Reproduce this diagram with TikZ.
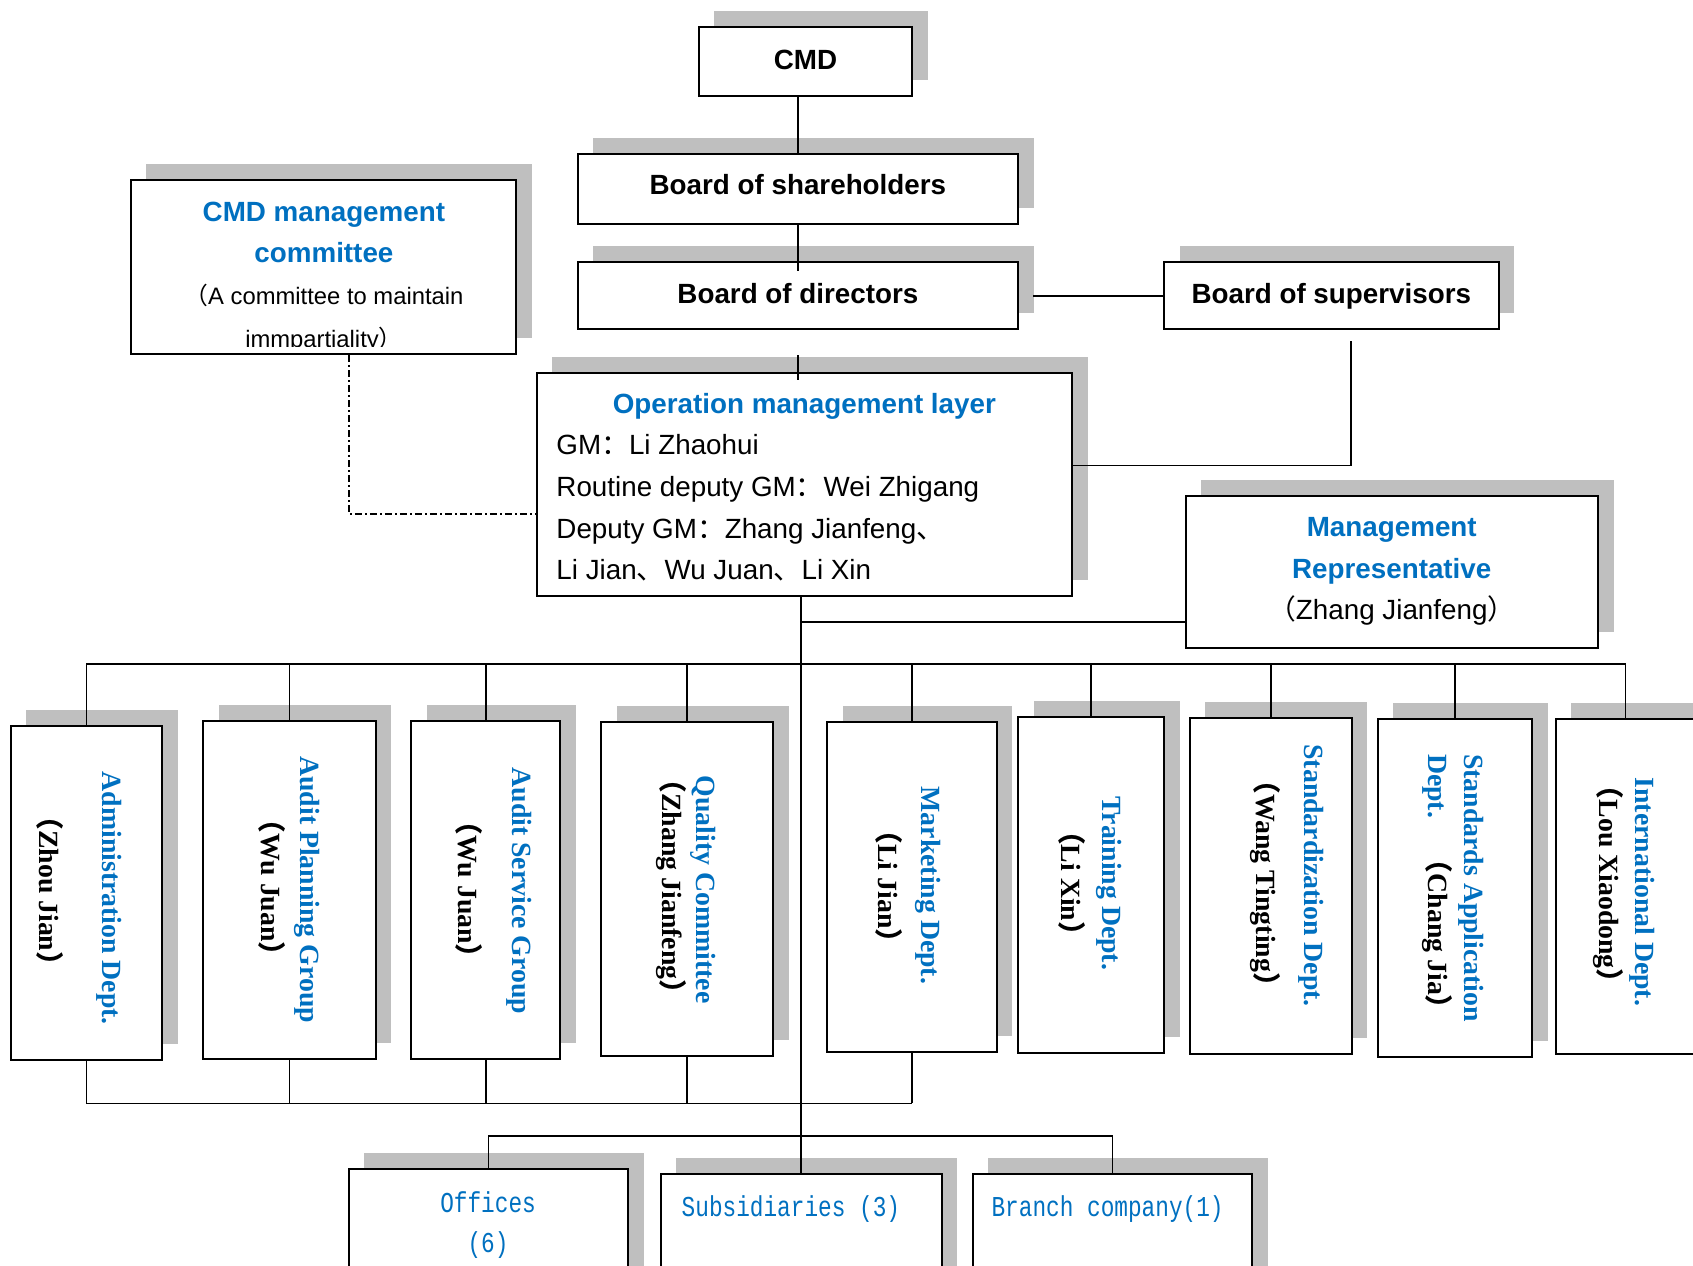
\documentclass[tikz,border=0pt]{standalone}
\usepackage{fontspec}
\setmainfont{Liberation Sans}
\newfontfamily\cjk{Noto Sans CJK SC}
\newfontfamily\timesf{Liberation Serif}
\newfontfamily\simf{Liberation Mono}[FakeStretch=0.79]
\usetikzlibrary{shadows,fit}

\definecolor{deptblue}{RGB}{0,112,192}
\newcommand{\zlp}{{\cjk （}}
\newcommand{\zrp}{{\cjk ）}}
\newcommand{\zcol}{{\cjk ：}}
\newcommand{\zdun}{{\cjk 、}}

\begin{document}
\begin{tikzpicture}[x=0.54pt, y=-0.54pt,
  box/.style={draw, line width=1pt, fill=white, inner sep=0pt,
    drop shadow={shadow xshift=7.8pt, shadow yshift=8pt, fill=black!25, opacity=1}},
  conn/.style={line width=0.8pt},
  btitle/.style={inner sep=0pt, font={\bfseries\fontsize{13.9}{20.8}\selectfont}},
  bluetitle/.style={btitle, text=deptblue},
  plaintxt/.style={inner sep=0pt, font={\fontsize{13.9}{20.8}\selectfont}},
  smalltxt/.style={inner sep=0pt, font={\fontsize{11.9}{20.8}\selectfont}},
  vname/.style={inner sep=0pt, rotate=-90, text=deptblue, font={\timesf\bfseries\fontsize{13.9}{17}\selectfont}},
  vhead/.style={vname, text=black},
  subtxt/.style={inner sep=0pt, text=deptblue, font={\simf\fontsize{14.4}{20}\selectfont}}]
\fill[white] (0,0) rectangle (1568,1172);
\useasboundingbox (0,0) rectangle (1568,1172);

% top of the chart
\node[box, fit={(647,25) (845,89)}] (cmd) {};
\node[btitle, anchor=base] (cmdtxt) at (746,64) {CMD};
\node[box, fit={(535,143) (943,207)}] (share) {};
\node[btitle, anchor=base] (sharetxt) at (739,180) {Board of shareholders};
\node[box, fit={(535,243) (943,305)}] (dir) {};
\node[btitle, anchor=base] (dirtxt) at (739,281) {Board of directors};
\node[box, fit={(1078,243) (1388,305)}] (sup) {};
\node[btitle, anchor=base] (suptxt) at (1233,281) {Board of supervisors};

\node[box, fit={(121,167) (478,328)}] (cmc) {};
\node[bluetitle, anchor=base] (cmct1) at (300,205) {CMD management};
\node[bluetitle, anchor=base] (cmct2) at (300,243) {committee};
\node[smalltxt, anchor=base] (cmct3) at (300,282) {\zlp A committee to maintain};
\begin{scope}
  \clip (cmc.north west) rectangle ([yshift=4.3pt]cmc.south east);
  \node[smalltxt, anchor=base] (cmct4) at (300,321.5) {immpartiality\zrp};
\end{scope}

\node[box, fit={(497,345) (993,552)}] (op) {};
\node[bluetitle, anchor=base] (optitle) at (745,383) {Operation management layer};
\node[plaintxt, anchor=base west] (opl1) at (515,421) {GM\zcol Li Zhaohui};
\node[plaintxt, anchor=base west] (opl2) at (515,460) {Routine deputy GM\zcol Wei Zhigang};
\node[plaintxt, anchor=base west] (opl3) at (515,499) {Deputy GM\zcol Zhang Jianfeng\zdun};
\node[plaintxt, anchor=base west] (opl4) at (515,537) {Li Jian\zdun Wu Juan\zdun Li Xin};

\node[box, fit={(1098,459) (1480,600)}] (rep) {};
\node[bluetitle, anchor=base] (rept1) at (1289,497) {Management};
\node[bluetitle, anchor=base] (rept2) at (1289,536) {Representative};
\node[plaintxt, anchor=base] (rept3) at (1289,574) {\zlp Zhang Jianfeng\zrp};

% departments
\node[box, fit={(10,672) (150,982)}] (admin) {};
\node[vname] (adminname) at (101,832) {Administration Dept.};
\node[vhead] (adminhead) at (46,825) {\zlp Zhou Jian\zrp};
\node[box, fit={(188,668) (348,981)}] (aplan) {};
\node[vname] (aplanname) at (284,824) {Audit Planning Group};
\node[vhead] (aplanhead) at (252,822) {\zlp Wu Juan\zrp};
\node[box, fit={(381,668) (519,981)}] (aserv) {};
\node[vname] (aservname) at (481,825) {Audit Service Group};
\node[vhead] (aservhead) at (434,824) {\zlp Wu Juan\zrp};
\node[box, fit={(557,669) (716,978)}] (qual) {};
\node[vname] (qualname) at (651,824) {Quality Committee};
\node[vhead] (qualhead) at (622,821) {\zlp Zhang Jianfeng\zrp};
\node[box, fit={(766,669) (923,974)}] (mkt) {};
\node[vname] (mktname) at (860,820) {Marketing Dept.};
\node[vhead] (mkthead) at (823,821) {\zlp Li Jian\zrp};
\node[box, fit={(943,664) (1078,975)}] (train) {};
\node[vname] (trainname) at (1027,818) {Training Dept.};
\node[vhead] (trainhead) at (993,818) {\zlp Li Xin\zrp};
\node[box, fit={(1102,665) (1252,976)}] (std) {};
\node[vname] (stdname) at (1214,811) {Standardization Dept.};
\node[vhead] (stdhead) at (1172,818) {\zlp Wang Tingting\zrp};
\node[box, fit={(1276,666) (1419,979)}] (stdapp) {};
\node[vname, anchor=west] (stdappname) at (1363,698) {Standards Application};
\node[vname, anchor=west] (stdapphead) at (1331,698) {Dept.\hspace{1em}\textcolor{black}{\zlp Chang Jia\zrp}};
\node[box, fit={(1441,666) (1570,976)}] (intl) {};
\node[vname] (intlname) at (1521,826) {International Dept.};
\node[vhead] (intlhead) at (1490,819) {\zlp Lou Xiaodong\zrp};

% offices and companies
\node[box, fit={(323,1083) (582,1215)}] (off) {};
\node[subtxt, anchor=base] (offt1) at (452,1123) {Offices};
\node[subtxt, anchor=base] (offt2) at (452,1160) {(6)};
\node[box, fit={(612,1087) (872,1215)}] (sub) {};
\node[subtxt, anchor=base west] (subt) at (631,1127) {Subsidiaries (3)};
\node[box, fit={(901,1087) (1160,1215)}] (br) {};
\node[subtxt, anchor=base west] (brt) at (918,1127) {Branch company(1)};

% connectors
\coordinate (dirtick) at (739,329);
\coordinate (supfoot) at (1251,316);
\coordinate (opsup) at (1251,431);
\coordinate (cmcbend) at (323,476);
\coordinate (repjoin) at (743,576);
\coordinate (topbus) at (743,615);
\coordinate (lowbus) at (743,1022);
\coordinate (subbus) at (743,1052);

\draw[conn] (share.north |- cmd.south) -- (share.north);
\draw[conn] (share.south) -- ([yshift=-5pt]dir.north);
\draw[conn] (dirtick) -- ([yshift=-4pt]dirtick |- op.north);
\draw[conn] ([xshift=7pt]dir.east) -- (sup.west);
\draw[conn] (supfoot) -- (opsup) -- (opsup -| op.east);
\draw[conn, dash pattern=on 3.5pt off 1.6pt on 0.8pt off 1.6pt] (cmcbend |- cmc.south) -- (cmcbend) -- (cmcbend -| op.west);
\draw[conn] (op.south -| sub.north) -- (sub.north);
\draw[conn] (repjoin) -- (repjoin -| rep.west);

\draw[conn] (admin.north |- topbus) -- (intl.north |- topbus);
\draw[conn] (admin.north) -- (admin.north |- topbus);
\draw[conn] (aplan.north) -- (aplan.north |- topbus);
\draw[conn] (aserv.north) -- (aserv.north |- topbus);
\draw[conn] (qual.north) -- (qual.north |- topbus);
\draw[conn] (mkt.north) -- (mkt.north |- topbus);
\draw[conn] (train.north) -- (train.north |- topbus);
\draw[conn] (std.north) -- (std.north |- topbus);
\draw[conn] (stdapp.north) -- (stdapp.north |- topbus);
\draw[conn] (intl.north) -- (intl.north |- topbus);

\draw[conn] (admin.south |- lowbus) -- (mkt.south |- lowbus);
\draw[conn] (admin.south) -- (admin.south |- lowbus);
\draw[conn] (aplan.south) -- (aplan.south |- lowbus);
\draw[conn] (aserv.south) -- (aserv.south |- lowbus);
\draw[conn] (qual.south) -- (qual.south |- lowbus);
\draw[conn] (mkt.south) -- (mkt.south |- lowbus);

\draw[conn] (off.north) -- (off.north |- subbus) -- (br.north |- subbus) -- (br.north);
\end{tikzpicture}
\end{document}
